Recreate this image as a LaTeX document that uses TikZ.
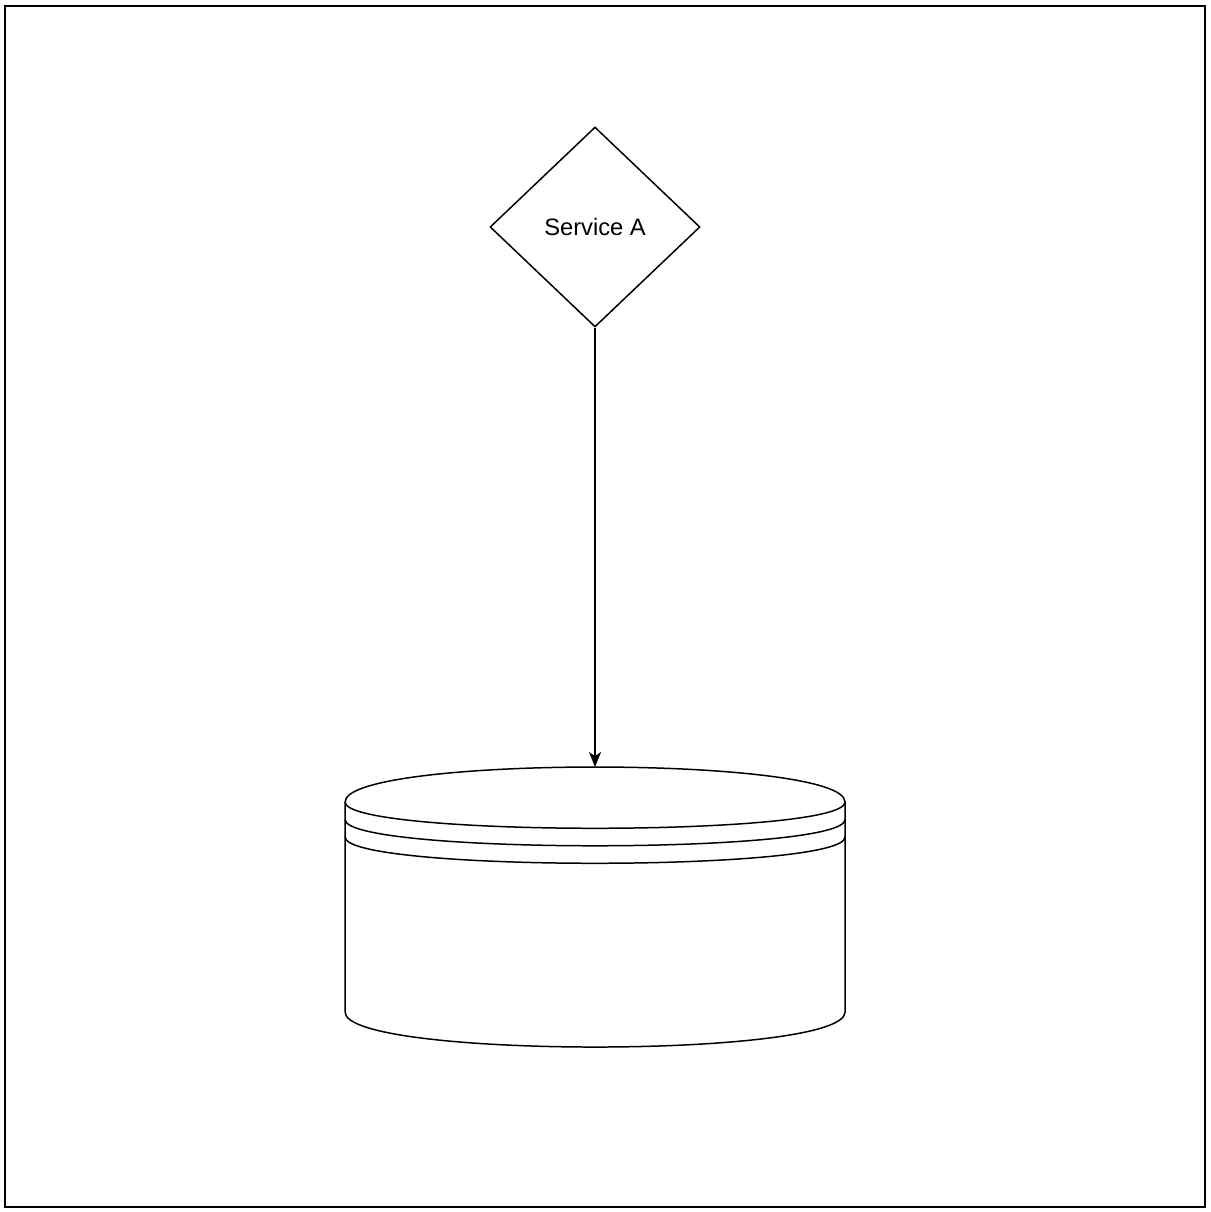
\documentclass[tikz,border=0pt]{standalone}
\usepackage{fontspec}
\setmainfont{Liberation Sans}
\usepackage{tikz}
\usetikzlibrary{shapes.geometric,arrows.meta}

\tikzset{
  svcbox/.style={diamond, draw, line width=0.85pt, inner sep=0pt, aspect=1.05,
    minimum width=4.2cm, minimum height=4cm, font=\fontsize{13.5}{16}\selectfont},
  storebox/.style={rectangle, inner sep=0pt, outer sep=0pt,
    minimum width=10cm, minimum height=5.6cm},
  storeline/.style={line width=0.85pt},
  flow/.style={-{Stealth[length=0.3cm, width=0.24cm, inset=0.08cm]}, line width=0.85pt}
}

\begin{document}
\begin{tikzpicture}[x=0.02cm, y=-0.02cm]
\useasboundingbox (0,0) rectangle (1210,1212);
\draw [black, line width=1.2pt] (5,6) rectangle (1205,1207);

\node [svcbox] (svc) at (595,227) {Service A};
\node [storebox] (db) at (595,907) {};

% data store drawn from the top left corner of db
\begin{scope}[shift={(db.north west)}]
\draw [storeline] (0,35) .. controls (0,-11.67) and (500,-11.67) .. (500,35)
  -- (500,245) .. controls (500,291.67) and (0,291.67) .. (0,245) -- cycle;
\draw [storeline] (0,35) .. controls (0,70) and (500,70) .. (500,35);
\draw [storeline] (0,52.5) .. controls (0,87.5) and (500,87.5) .. (500,52.5);
\draw [storeline] (0,70) .. controls (0,105) and (500,105) .. (500,70);
\end{scope}

\draw [flow] (svc.south) -- (db.north);
\end{tikzpicture}
\end{document}
